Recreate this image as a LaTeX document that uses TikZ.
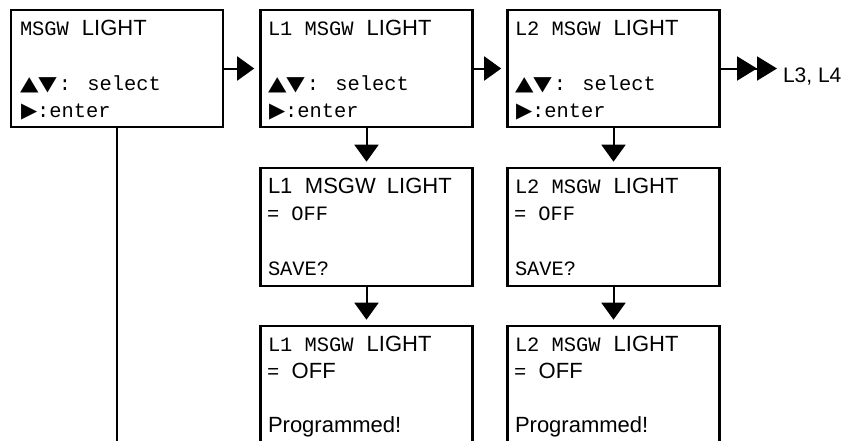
\documentclass[tikz,border=0pt]{standalone}
\usepackage{fontspec}
\usepackage{graphicx}
\usetikzlibrary{arrows.meta}
\setmainfont{Liberation Sans}
\newfontfamily\lcdfont{Liberation Mono}
\newfontfamily\symfont{DejaVu Sans}
\newcommand\lcd[1]{{\lcdfont\fontsize{20.4}{24}\selectfont #1}}
\newcommand\updn{{\symfont\fontsize{20}{24}\selectfont\scalebox{1.2}[1]{▲}\scalebox{1.2}[1]{▼}}}
\newcommand\rtri{{\symfont\fontsize{21}{24}\selectfont ▶}}
\begin{document}
\begin{tikzpicture}[x=1pt,y=-1pt,
  every node/.style={font=\fontsize{22}{26}\selectfont},
  box/.style={draw, line width=2.6pt, inner sep=0pt, minimum width=212pt},
  topbox/.style={box, minimum height=117pt},
  midbox/.style={box, minimum height=118pt},
  lowbox/.style={box, minimum height=140pt},
  txt/.style={anchor=base west, inner sep=0pt, outer sep=0pt},
  conn/.style={line width=2pt, -{Triangle[length=17pt,width=24pt]}, shorten >=5pt},
  plain/.style={line width=2pt}]
\useasboundingbox (0,0) rectangle (852,440);
\clip (0,0) rectangle (852,440);
% boxes
\node[topbox] (A) at (117,68.5) {};
\node[topbox] (B) at (366.5,68.5) {};
\node[topbox] (C) at (613.5,68.5) {};
\node[midbox] (B1) at (366.5,227) {};
\node[midbox] (C1) at (613.5,227) {};
\node[lowbox] (B2) at (366.5,396) {};
\node[lowbox] (C2) at (613.5,396) {};
% box A text
\node[txt] (a1) at (20,35) {\lcd{MSGW}\hspace{13pt}LIGHT};
\node[txt] (a3) at (20,90) {\updn\hspace{2pt}\lcd{: select}};
\node[txt] (a4) at (21,117) {\rtri\lcd{:enter}};
% box B text
\node[txt] (b1) at (268,35) {\lcd{L1 MSGW}\hspace{13pt}LIGHT};
\node[txt] (b3) at (268,90) {\updn\hspace{2pt}\lcd{: select}};
\node[txt] (b4) at (269,117) {\rtri\lcd{:enter}};
% box C text
\node[txt] (c1) at (515,35) {\lcd{L2 MSGW}\hspace{13pt}LIGHT};
\node[txt] (c3) at (515,90) {\updn\hspace{2pt}\lcd{: select}};
\node[txt] (c4) at (516,117) {\rtri\lcd{:enter}};
% mid L1
\node[txt] (d1) at (268,193) {\makebox[37pt][l]{L1}\makebox[82pt][l]{MSGW}LIGHT};
\node[txt] (d2) at (267,220) {\lcd{= OFF}};
\node[txt] (d4) at (268,275) {\lcd{SAVE?}};
% mid L2
\node[txt] (e1) at (515,193) {\lcd{L2 MSGW}\hspace{13pt}LIGHT};
\node[txt] (e2) at (514,220) {\lcd{= OFF}};
\node[txt] (e4) at (515,275) {\lcd{SAVE?}};
% low L1
\node[txt] (f1) at (268,351) {\lcd{L1 MSGW}\hspace{13pt}LIGHT};
\node[txt] (f2) at (267,378) {\lcd{=}\hspace{12.5pt}OFF};
\node[txt] (f4) at (268,432) {Programmed!};
% low L2
\node[txt] (g1) at (515,351) {\lcd{L2 MSGW}\hspace{13pt}LIGHT};
\node[txt] (g2) at (514,378) {\lcd{=}\hspace{12.5pt}OFF};
\node[txt] (g4) at (515,432) {Programmed!};
% connectors
\draw[conn] (A) -- (B);
\draw[conn] (B) -- (C);
\draw[conn] (B) -- (B1);
\draw[conn] (B1) -- (B2);
\draw[conn] (C) -- (C1);
\draw[conn] (C1) -- (C2);
\coordinate (more) at (777,68.5);
\draw[plain, -{Triangle[length=20pt,width=24pt]Triangle[length=20pt,width=24pt]}] (C) -- (more);
\node[txt, font=\fontsize{21}{25}\selectfont] (l34) at (783,82) {L3, L4};
\coordinate (Aend) at (117,445);
\draw[plain] (A) -- (Aend);
\end{tikzpicture}
\end{document}
